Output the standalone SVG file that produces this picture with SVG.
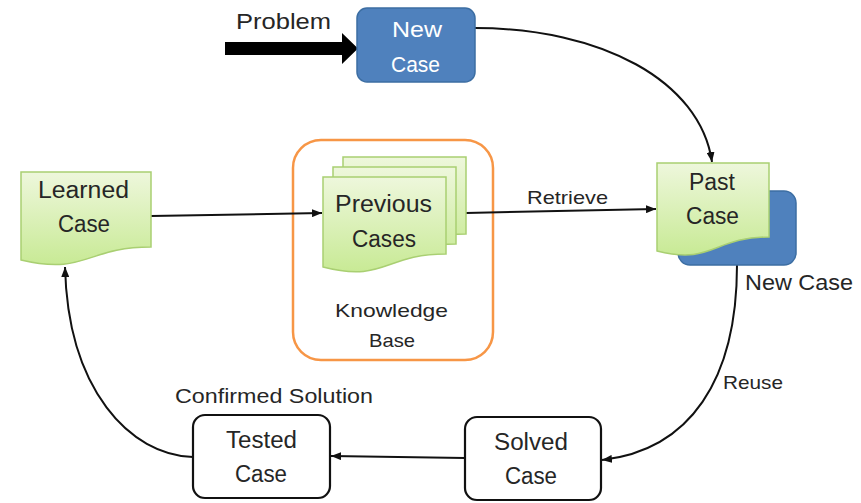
<svg xmlns="http://www.w3.org/2000/svg" width="861" height="503" viewBox="0 0 861 503">
  <defs>
    <linearGradient id="docFill" x1="0" y1="0" x2="0" y2="1">
      <stop offset="0" stop-color="#eef7dc"/>
      <stop offset="1" stop-color="#c8ea95"/>
    </linearGradient>
    <marker id="arrow" markerUnits="userSpaceOnUse" markerWidth="10" markerHeight="8" refX="10" refY="4" orient="auto">
      <path d="M0,0 L10,4 L0,8 z" fill="#111"/>
    </marker>
    <style>
      text { font-family: "Liberation Sans", Arial, sans-serif; fill: #262626; text-anchor: middle; }
      .big { font-size: 23px; }
      .small { font-size: 19px; }
      .white { fill: #ffffff; font-size: 22px; }
      .doc { fill: url(#docFill); stroke: #a9cf72; stroke-width: 1.5; }
      .blue { fill: #4f81bd; stroke: #3c6ea3; stroke-width: 1.5; }
      .box { fill: #ffffff; stroke: #111; stroke-width: 2.2; }
      .kb { fill: #ffffff; stroke: #f79646; stroke-width: 2.5; }
      .link { fill: none; stroke: #111; stroke-width: 2; marker-end: url(#arrow); }
    </style>
  </defs>

  <rect width="861" height="503" fill="#ffffff"/>

  <!-- incoming problem -->
  <g id="problem">
    <polygon points="225,42 342,42 342,33 358,48.5 342,64 342,55 225,55" fill="#000"/>
    <text x="283.5" y="29" font-size="22" textLength="95" lengthAdjust="spacingAndGlyphs">Problem</text>
  </g>

  <!-- knowledge base container -->
  <g id="knowledge-base">
    <rect class="kb" x="293" y="140" width="200" height="220" rx="28"/>
    <text class="small" x="391.5" y="317" textLength="113" lengthAdjust="spacingAndGlyphs">Knowledge</text>
    <text class="small" x="392" y="347" textLength="46" lengthAdjust="spacingAndGlyphs">Base</text>
  </g>

  <g id="connectors">
    <path class="link" d="M475,28 C600,28 700,80 712,162"/>
    <path class="link" d="M151,216 L322,213"/>
    <path class="link" d="M466,213 L656,209"/>
    <path class="link" d="M737,265 C737,380 690,450 602,460"/>
    <path class="link" d="M465,458 L331,456"/>
    <path class="link" d="M193,457 C130,455 68,390 65,267"/>
  </g>

  <g id="new-case">
    <rect class="blue" x="357" y="8" width="118" height="74" rx="10"/>
    <text class="white" x="417" y="37" textLength="50" lengthAdjust="spacingAndGlyphs">New</text>
    <text class="white" x="415.5" y="72" textLength="49" lengthAdjust="spacingAndGlyphs">Case</text>
  </g>

  <g id="learned-case">
    <path class="doc" d="M21,172 H151 V247 C86,247 86,275.5 21,260 Z"/>
    <text class="big" x="83.5" y="198" textLength="91" lengthAdjust="spacingAndGlyphs">Learned</text>
    <text class="big" x="84" y="232" textLength="52" lengthAdjust="spacingAndGlyphs">Case</text>
  </g>

  <g id="previous-cases">
    <path class="doc" d="M343,157 H466 V234 C404.5,234 404.5,263 343,247 Z"/>
    <path class="doc" d="M333,167 H456 V244 C394.5,244 394.5,273 333,257 Z"/>
    <path class="doc" d="M323,177 H446 V254 C384.5,254 384.5,283 323,267 Z"/>
    <text class="big" x="383.5" y="212" textLength="97" lengthAdjust="spacingAndGlyphs">Previous</text>
    <text class="big" x="384" y="247" textLength="64" lengthAdjust="spacingAndGlyphs">Cases</text>
  </g>

  <g id="retrieve-label">
    <text class="small" x="567.5" y="204" textLength="81" lengthAdjust="spacingAndGlyphs">Retrieve</text>
  </g>

  <g id="past-case">
    <rect class="blue" x="678" y="191" width="118" height="74" rx="12"/>
    <path class="doc" d="M657,163 H769 V237 C713,237 713,265 657,251 Z"/>
    <text class="big" x="712" y="190" textLength="46" lengthAdjust="spacingAndGlyphs">Past</text>
    <text class="big" x="712.5" y="224" textLength="53" lengthAdjust="spacingAndGlyphs">Case</text>
    <text x="799" y="290" font-size="22" textLength="108" lengthAdjust="spacingAndGlyphs">New Case</text>
  </g>

  <g id="reuse-label">
    <text class="small" x="753" y="389" textLength="60" lengthAdjust="spacingAndGlyphs">Reuse</text>
  </g>

  <g id="solved-case">
    <rect class="box" x="465" y="417" width="136" height="83" rx="12"/>
    <text class="big" x="531" y="450" textLength="74" lengthAdjust="spacingAndGlyphs">Solved</text>
    <text class="big" x="531" y="484" textLength="52" lengthAdjust="spacingAndGlyphs">Case</text>
  </g>

  <g id="tested-case">
    <rect class="box" x="193" y="415" width="137" height="83" rx="12"/>
    <text class="big" x="261.5" y="448" textLength="71" lengthAdjust="spacingAndGlyphs">Tested</text>
    <text class="big" x="261" y="482" textLength="52" lengthAdjust="spacingAndGlyphs">Case</text>
    <text x="274" y="403" font-size="20" textLength="198" lengthAdjust="spacingAndGlyphs">Confirmed Solution</text>
  </g>
</svg>
